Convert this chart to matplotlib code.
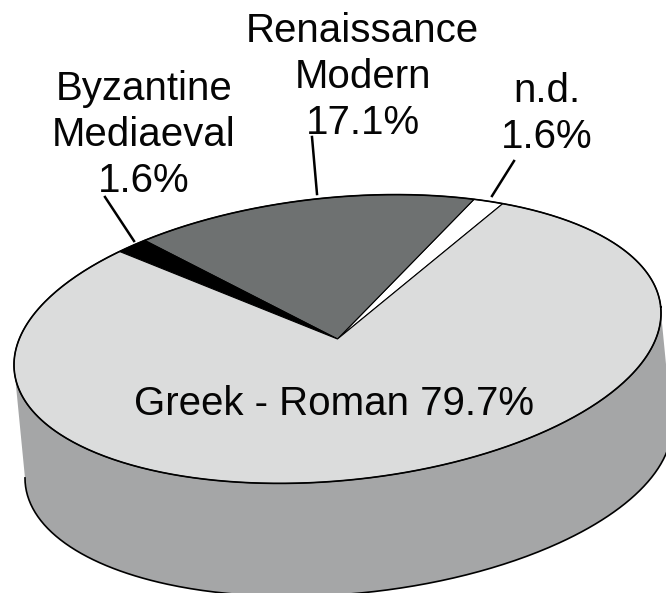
import matplotlib
matplotlib.use("Agg")
import matplotlib.pyplot as plt
import numpy as np

# share of each period, counter clockwise from the n.d. slice
labels = ["n.d.\n1.6%", "Renaissance\nModern\n17.1%", "Byzantine\nMediaeval\n1.6%", "Greek - Roman 79.7%"]
values = [1.6, 17.1, 1.6, 79.7]
colors = ["#ffffff", "#6e7171", "#000000", "#dbdcdc"]

start_angle = 56.8
cx, cy = 337.5, 339
a, b = 324.8, 141.5
tilt = np.radians(5.66)
# lower rim of the disc
dx, dy = 11, 113

plt.rcParams["font.family"] = ["Liberation Sans", "DejaVu Sans"]


def rim(t, ox=0, oy=0):
    # point on the tilted ellipse, t in degrees, y goes down in pixels
    t = np.radians(t)
    x = a * np.cos(t) * np.cos(tilt) - b * np.sin(t) * np.sin(tilt)
    y = a * np.cos(t) * np.sin(tilt) + b * np.sin(t) * np.cos(tilt)
    return cx + ox + x, cy + oy - y


def put_label(text, x, y, pitch=46):
    # y is the baseline of the first line
    for i, line in enumerate(text.split("\n")):
        ax.text(x, y + i * pitch, line, ha="center", va="baseline", fontsize=29, color="#050505", zorder=5)


fig = plt.figure(figsize=(6.66, 5.93), dpi=100)
ax = fig.add_axes([0, 0, 1, 1])
ax.set_xlim(0, 666)
ax.set_ylim(593, 0)
ax.axis("off")

# side of the disc
left = 180 - np.degrees(np.arctan(b * np.tan(tilt) / a))
ts = np.linspace(left, left + 180, 300)
x1, y1 = rim(ts)
x2, y2 = rim(ts, dx, dy)
ax.fill(np.r_[x1, x2[::-1]], np.r_[y1, y2[::-1]], color="#a5a6a7", lw=0, zorder=1)
ax.plot(x2, y2, color="black", lw=1.2, zorder=2)

# top face, one slice per value
angle = start_angle
for v, c in zip(values, colors):
    sweep = v / sum(values) * 360
    ts = np.linspace(angle, angle + sweep, max(int(sweep * 2), 4))
    x, y = rim(ts)
    ax.fill(np.r_[cx, x], np.r_[cy, y], facecolor=c, edgecolor="black", lw=0.8, zorder=3, joinstyle="round")
    angle += sweep

# outline of the top face is heavier than the slice edges
x, y = rim(np.linspace(0, 360, 500))
ax.plot(x, y, color="black", lw=1.2, zorder=3.5)

# leader lines
ax.plot([312, 317], [137, 194], color="black", lw=1.8, zorder=4)
ax.plot([105, 134], [197, 241], color="black", lw=1.8, zorder=4)
ax.plot([514, 492], [161, 196], color="black", lw=1.8, zorder=4)

put_label(labels[0], 547, 102)
put_label(labels[1], 362.5, 42)
put_label(labels[2], 144, 100)
put_label(labels[3], 334, 415)

fig.savefig("out.png", dpi=100)
